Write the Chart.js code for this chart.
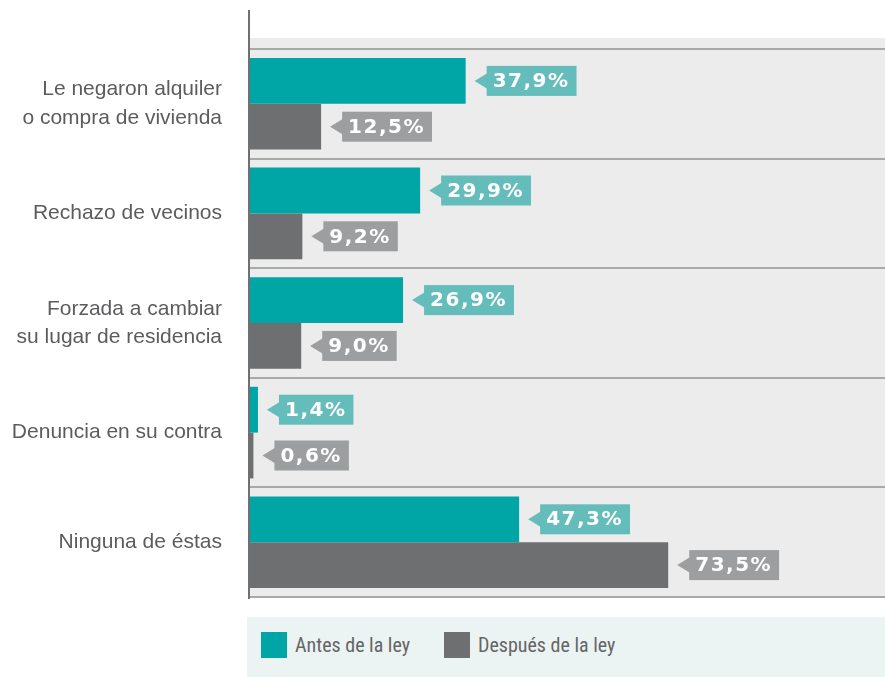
<!DOCTYPE html>
<html>
<head>
<meta charset="utf-8">
<script src="https://cdn.jsdelivr.net/npm/chart.js@4/dist/chart.umd.min.js"></script>
<style>
  body { margin: 0; background: #fff; }
  #wrap { position: relative; width: 885px; height: 600px; }
  #legend {
    position: absolute; left: 247px; top: 617px; width: 638px; height: 60px;
    background: #ecf4f3;
    font-family: "Liberation Sans Narrow", "Roboto Condensed", "Liberation Sans", Arial, sans-serif;
    font-size: 20px; color: #646567;
  }
  .item { position: absolute; top: 15px; height: 26px; line-height: 26px; }
  .item span.box { position: absolute; left: 0; top: 0; width: 26px; height: 26px; }
  .item span.txt { position: absolute; left: 34px; top: 0; white-space: nowrap; }
</style>
</head>
<body>
<div id="wrap"><canvas id="chart"></canvas></div>
<div id="legend">
  <div class="item" style="left:14px"><span class="box" style="background:#00a5a5"></span><span class="txt">Antes de la ley</span></div>
  <div class="item" style="left:197px"><span class="box" style="background:#6e6f71"></span><span class="txt">Después de la ley</span></div>
</div>
<script>
const categories = [
  ["Le negaron alquiler", "o compra de vivienda"],
  "Rechazo de vecinos",
  ["Forzada a cambiar", "su lugar de residencia"],
  "Denuncia en su contra",
  "Ninguna de éstas",
];
const antes = [37.9, 29.9, 26.9, 1.4, 47.3];
const despues = [12.5, 9.2, 9.0, 0.6, 73.5];

const TEAL = "#00a5a5";
const GRAY = "#6e6f71";
const TEAL_TAG = "#64bdbb";
const GRAY_TAG = "#9d9ea0";

function fmt(v) {
  return v.toFixed(1).replace(".", ",") + "%";
}

// grey panel behind the plot and the long left axis line
const backdrop = {
  id: "backdrop",
  beforeDraw(chart) {
    const { ctx, chartArea } = chart;
    ctx.save();
    ctx.fillStyle = "#ebeceb";
    ctx.fillRect(chartArea.left, 38, chart.width - chartArea.left, chartArea.bottom - 38 + 1);
    ctx.restore();
  },
  afterDraw(chart) {
    const { ctx, chartArea } = chart;
    ctx.save();
    ctx.strokeStyle = "#6f7072";
    ctx.lineWidth = 2;
    ctx.beginPath();
    ctx.moveTo(chartArea.left - 1, 10);
    ctx.lineTo(chartArea.left - 1, chartArea.bottom + 2);
    ctx.stroke();
    ctx.restore();
  },
};

// value tags with a little arrow pointing at the bar end
const tags = {
  id: "tags",
  afterDatasetsDraw(chart) {
    const ctx = chart.ctx;
    ctx.save();
    ctx.font = "bold 20px 'DejaVu Sans', sans-serif";
    ctx.letterSpacing = "1.5px";
    ctx.textBaseline = "middle";
    chart.data.datasets.forEach((ds, di) => {
      const meta = chart.getDatasetMeta(di);
      const color = di === 0 ? TEAL_TAG : GRAY_TAG;
      meta.data.forEach((bar, i) => {
        const text = fmt(ds.data[i]);
        const w = ctx.measureText(text).width + 13;
        const h = 30;
        const tip = bar.x + 9;
        const left = bar.x + 21;
        const cy = bar.y;
        ctx.fillStyle = color;
        ctx.fillRect(left, cy - h / 2, w, h);
        ctx.beginPath();
        ctx.moveTo(tip, cy);
        ctx.lineTo(left + 1, cy - 8);
        ctx.lineTo(left + 1, cy + 8);
        ctx.closePath();
        ctx.fill();
        ctx.fillStyle = "#ffffff";
        ctx.fillText(text, left + 6, cy + 1);
      });
    });
    ctx.restore();
  },
};

new Chart(document.getElementById("chart"), {
  type: "bar",
  data: {
    labels: categories,
    datasets: [
      { label: "Antes de la ley", data: antes, backgroundColor: TEAL },
      { label: "Después de la ley", data: despues, backgroundColor: GRAY },
    ],
  },
  options: {
    indexAxis: "y",
    responsive: true,
    maintainAspectRatio: false,
    animation: false,
    datasets: {
      bar: { barPercentage: 1, categoryPercentage: 0.836, borderWidth: 0 },
    },
    layout: { padding: { top: 49, bottom: 3, left: 0, right: 0 } },
    plugins: {
      legend: { display: false },
      tooltip: { enabled: false },
    },
    scales: {
      x: { min: 0, max: 111.6, display: false },
      y: {
        grid: { offset: true, color: "#a8aaaa", lineWidth: 2, drawTicks: false },
        border: { display: false },
        ticks: {
          padding: 28,
          color: "#5b5c5e",
          font: { family: "'Liberation Sans', Arial, sans-serif", size: 21, lineHeight: 1.35 },
        },
        afterFit(scale) {
          scale.width = 250;
          scale.paddingTop = 0;
          scale.paddingBottom = 0;
        },
      },
    },
  },
  plugins: [backdrop, tags],
});
</script>
</body>
</html>
